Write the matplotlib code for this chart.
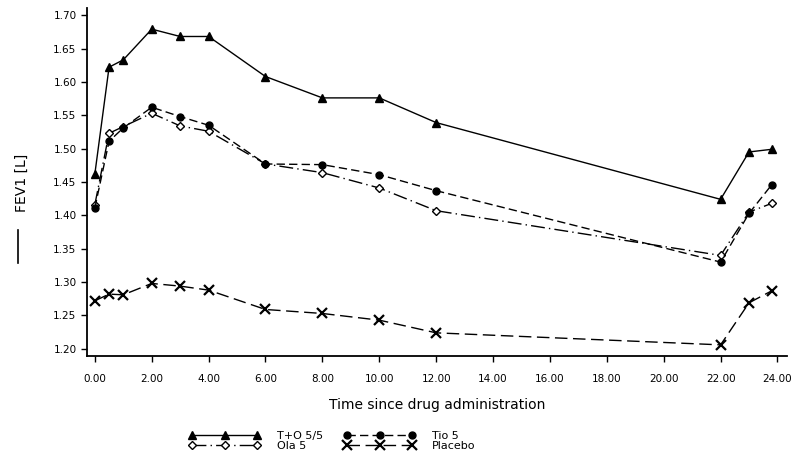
import numpy as np
import matplotlib.pyplot as plt
from matplotlib.lines import Line2D

# time since drug administration [h]
t = [0, 0.5, 1, 2, 3, 4, 6, 8, 10, 12, 22, 23, 23.8]

# FEV1 [L]
to_55 = [1.462, 1.622, 1.633, 1.679, 1.668, 1.668, 1.608, 1.576, 1.576, 1.539, 1.424, 1.495, 1.499]
tio_5 = [1.411, 1.511, 1.531, 1.562, 1.548, 1.535, 1.477, 1.476, 1.461, 1.437, 1.330, 1.403, 1.446]
ola_5 = [1.416, 1.523, 1.533, 1.553, 1.534, 1.526, 1.477, 1.464, 1.441, 1.407, 1.340, 1.405, 1.418]
placebo = [1.272, 1.282, 1.281, 1.298, 1.294, 1.288, 1.259, 1.253, 1.243, 1.224, 1.206, 1.269, 1.287]

xticks = np.arange(0, 25, 2)
yticks = [1.20, 1.25, 1.30, 1.35, 1.40, 1.45, 1.50, 1.55, 1.60, 1.65, 1.70]

plt.rcParams['font.family'] = ['DejaVu Sans']

fig = plt.figure(figsize=(7.97, 4.58), dpi=100)
ax = fig.add_axes([0.109, 0.223, 0.879, 0.76])

ax.plot(t, to_55, color="black", lw=1.0, marker="^", ms=6, label="T+O 5/5")
ax.plot(t, ola_5, color="black", lw=1.0, dashes=(10, 3, 1, 3), marker="D", ms=4,
        markerfacecolor="white", label="Ola 5")
ax.plot(t, tio_5, color="black", lw=1.0, dashes=(6, 3), marker="o", ms=5, label="Tio 5")
ax.plot(t, placebo, color="black", lw=1.0, dashes=(9, 4), marker="x", ms=7, mew=1.6,
        label="Placebo")

ax.set_xlim(-0.28, 24.35)
ax.set_ylim(1.1895, 1.711)
ax.set_xticks(xticks)
ax.set_xticklabels(["%.2f" % v for v in xticks], fontsize=7.5)
ax.set_yticks(yticks)
ax.set_yticklabels(["%.2f" % v for v in yticks], fontsize=7.5)
ax.tick_params(direction="out", length=4, width=1)
ax.tick_params(axis="x", pad=9)
for s in ["top", "right"]:
    ax.spines[s].set_visible(False)
for s in ["left", "bottom"]:
    ax.spines[s].set_linewidth(1.3)

ax.set_xlabel("Time since drug administration", fontsize=10, labelpad=10)

# y label with the leading line
fig.text(0.027, 0.60, "FEV1 [L]", rotation=90, fontsize=10, ha="center", va="center")
fig.add_artist(Line2D([0.022, 0.022], [0.426, 0.498], color="black", lw=1.2))

ax.legend(loc="upper left", bbox_to_anchor=(0.137, -0.2), ncol=2, frameon=False,
          numpoints=3, handlelength=6.5, fontsize=8, columnspacing=1.8,
          labelspacing=0.0, handletextpad=1.5, borderpad=0)

plt.savefig("out.png", dpi=100)
